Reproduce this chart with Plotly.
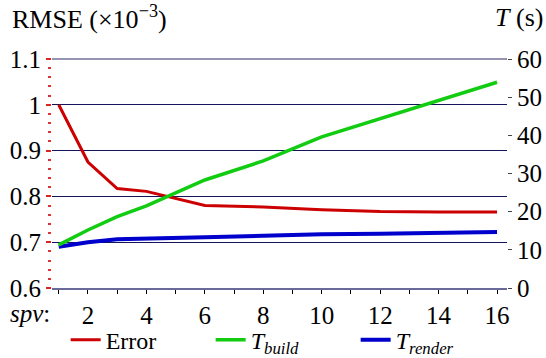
import plotly.graph_objects as go

spv = [1, 2, 3, 4, 6, 8, 10, 12, 14, 16]
error = [1.000, 0.875, 0.817, 0.811, 0.780, 0.777, 0.771, 0.767, 0.766, 0.766]
t_build = [11.3, 15.2, 18.7, 21.5, 28.3, 33.3, 39.6, 44.4, 49.1, 53.9]
t_render = [10.8, 12.0, 12.8, 12.9, 13.3, 13.7, 14.1, 14.2, 14.4, 14.7]
x_ticks = [2, 4, 6, 8, 10, 12, 14, 16]
left_ticks = [0.6, 0.7, 0.8, 0.9, 1.0, 1.1]
left_labels = ["0.6", "0.7", "0.8", "0.9", "1", "1.1"]
right_ticks = [0, 10, 20, 30, 40, 50, 60]

FONT = "Liberation Serif, Times New Roman, serif"
fig = go.Figure()
fig.add_trace(go.Scatter(x=spv, y=error, mode="lines", name="Error",
                         line=dict(color="#cc0000", width=3), legendrank=1))
fig.add_trace(go.Scatter(x=spv, y=t_render, mode="lines",
                         name="<i>T</i><sub><i>render</i></sub>",
                         line=dict(color="#0000cc", width=4), yaxis="y2", legendrank=3))
fig.add_trace(go.Scatter(x=spv, y=t_build, mode="lines",
                         name="<i>T</i><sub><i>build</i></sub>",
                         line=dict(color="#11cc11", width=3.5), yaxis="y2", legendrank=2))

fig.update_layout(
    width=546, height=358,
    margin=dict(l=52, r=39, t=59, b=70, autoexpand=False),
    paper_bgcolor="white", plot_bgcolor="white",
    font=dict(family=FONT, size=25, color="black"),
    xaxis=dict(range=[0.77, 16.34], tickvals=x_ticks, ticks="outside", ticklen=4,
               tickcolor="black", showgrid=False, zeroline=False,
               showline=True, linecolor="#6a6a9a", linewidth=1.5,
               minor=dict(tick0=1, dtick=1, ticks="outside", ticklen=4, tickcolor="black"),
               tickfont=dict(family=FONT, size=25), automargin=False),
    yaxis=dict(range=[0.6, 1.1], tickvals=left_ticks, ticktext=left_labels,
               ticks="outside", ticklen=5, tickcolor="#dd2222", tickwidth=1.5,
               showgrid=True, gridcolor="#14145a", gridwidth=1.1,
               zeroline=False, showline=False, automargin=False,
               minor=dict(dtick=0.02, tick0=0.6, ticks="outside", ticklen=3,
                          tickcolor="#dd3333", tickwidth=1.5, showgrid=False),
               tickfont=dict(family=FONT, size=25)),
    yaxis2=dict(range=[0, 60], tickvals=right_ticks, overlaying="y", side="right",
                ticks="outside", ticklen=4, tickcolor="#444444", showgrid=False,
                zeroline=False, showline=False, automargin=False,
                tickfont=dict(family=FONT, size=25)),
    legend=dict(orientation="h", x=0.03, xanchor="left", y=-0.13, yanchor="top",
                font=dict(family=FONT, size=24), bgcolor="rgba(0,0,0,0)", itemwidth=30,
                entrywidth=100, entrywidthmode="pixels"),
    showlegend=True,
)
fig.add_shape(type="line", xref="paper", yref="paper", x0=0, x1=1, y0=1, y1=1,
              line=dict(color="#707098", width=1.5))
fig.add_annotation(text="RMSE (×10<sup>−3</sup>)", xref="paper", yref="paper",
                   x=0, y=1, xanchor="left", yanchor="middle", xshift=-42, yshift=42,
                   showarrow=False, font=dict(family=FONT, size=26))
fig.add_annotation(text="<i>T</i> (s)", xref="paper", yref="paper",
                   x=1, y=1, xanchor="right", yanchor="middle", xshift=38, yshift=42,
                   showarrow=False, font=dict(family=FONT, size=26))
fig.add_annotation(text="<i>spv</i>:", xref="paper", yref="paper",
                   x=0, y=0, xanchor="center", yanchor="middle", xshift=-22, yshift=-25,
                   showarrow=False, font=dict(family=FONT, size=25))
fig.write_html("out.html", config={"displayModeBar": False},
               post_script="document.body.style.margin='0';document.body.style.padding='0';")
